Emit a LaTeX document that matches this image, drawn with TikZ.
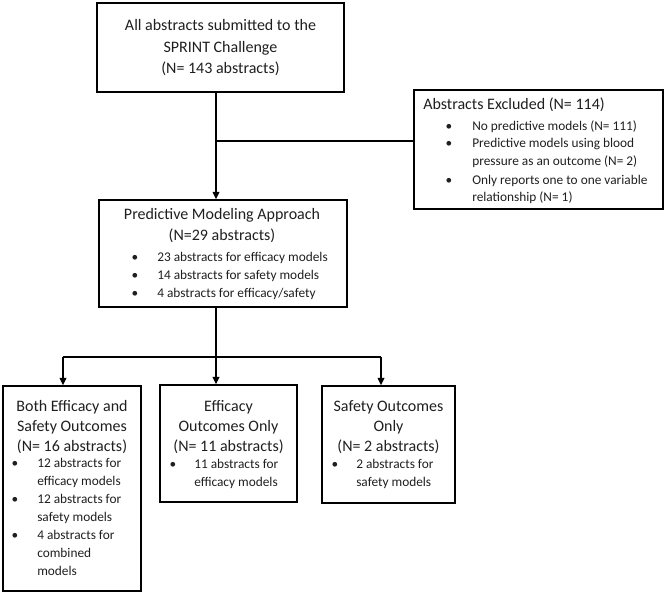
\documentclass[tikz,border=0pt]{standalone}
\usepackage{fontspec}
\setmainfont{Carlito}
\usetikzlibrary{arrows.meta}
\begin{document}
\begin{tikzpicture}[x=0.75pt,y=-0.75pt,
  box/.style={draw=black,line width=1.1pt,inner sep=0pt,rectangle},
  main/.style={font=\fontsize{12}{14}\selectfont,anchor=base,inner sep=0pt,text=black!88},
  mainl/.style={main,anchor=base west},
  sub/.style={font=\fontsize{10}{12}\selectfont,anchor=base west,inner sep=0pt,text=black!88},
  bul/.style={font=\fontsize{10}{12}\selectfont,anchor=base,inner sep=0pt,text=black!88},
  conn/.style={draw=black,line width=1pt},
  arr/.style={conn,-{Triangle[length=5.5pt,width=5pt]}}]
\useasboundingbox (0,0) rectangle (666,595);
% boxes
\node[box,minimum width={247*0.75pt},minimum height={89*0.75pt}] (top) at (220.5,47.5) {};
\node[box,minimum width={249*0.75pt},minimum height={119*0.75pt}] (excl) at (538.5,149.5) {};
\node[box,minimum width={248*0.75pt},minimum height={107*0.75pt}] (pred) at (223,253.5) {};
\node[box,minimum width={138*0.75pt},minimum height={205*0.75pt}] (both) at (72,488.5) {};
\node[box,minimum width={137*0.75pt},minimum height={117*0.75pt}] (eff) at (228.5,443.5) {};
\node[box,minimum width={133*0.75pt},minimum height={117*0.75pt}] (saf) at (388.5,444.5) {};
% top text
\node[main] (t1) at (220.5,30.5) {All abstracts submitted to the};
\node[main] (t2) at (220.5,52.5) {SPRINT Challenge};
\node[main] (t3) at (220.5,73.5) {(N= 143 abstracts)};
% excluded text
\node[mainl] (e0) at (423,109.5) {Abstracts Excluded (N= 114)};
\node[bul] (eb1) at (449,130.5) {\textbullet};
\node[sub] (e1) at (472,130.5) {No predictive models (N= 111)};
\node[bul] (eb2) at (449,147.5) {\textbullet};
\node[sub] (e2) at (472,147.5) {Predictive models using blood};
\node[sub] (e3) at (472,165.5) {pressure as an outcome (N= 2)};
\node[bul] (eb3) at (449,184.5) {\textbullet};
\node[sub] (e4) at (472,184.5) {Only reports one to one variable};
\node[sub] (e5) at (472,201.5) {relationship (N= 1)};
% predictive text
\node[main] (p1) at (222,219.5) {Predictive Modeling Approach};
\node[main] (p2) at (222,240) {(N=29 abstracts)};
\node[bul] (pb1) at (135,261.5) {\textbullet};
\node[sub] (p3) at (157,261.5) {23 abstracts for efficacy models};
\node[bul] (pb2) at (135,279.5) {\textbullet};
\node[sub] (p4) at (157,279.5) {14 abstracts for safety models};
\node[bul] (pb3) at (135,297.5) {\textbullet};
\node[sub] (p5) at (157,297.5) {4 abstracts for efficacy/safety};
% both box text
\node[main] (b1) at (72,411.5) {Both Efficacy and};
\node[main] (b2) at (72,431.5) {Safety Outcomes};
\node[main] (b3) at (72,451.5) {(N= 16 abstracts)};
\node[bul] (bb1) at (15,467.5) {\textbullet};
\node[sub] (b4) at (37,467.5) {12 abstracts for};
\node[sub] (b5) at (37,485.5) {efficacy models};
\node[bul] (bb2) at (15,503.5) {\textbullet};
\node[sub] (b6) at (37,503.5) {12 abstracts for};
\node[sub] (b7) at (37,521.5) {safety models};
\node[bul] (bb3) at (15,539.5) {\textbullet};
\node[sub] (b8) at (37,539.5) {4 abstracts for};
\node[sub] (b9) at (37,557.5) {combined};
\node[sub] (b10) at (37,575.5) {models};
% efficacy box text
\node[main] (f1) at (228.5,411.5) {Efficacy};
\node[main] (f2) at (228.5,431.5) {Outcomes Only};
\node[main] (f3) at (228.5,451.5) {(N= 11 abstracts)};
\node[bul] (fb1) at (173,468.5) {\textbullet};
\node[sub] (f4) at (194,468.5) {11 abstracts for};
\node[sub] (f5) at (194,486.5) {efficacy models};
% safety box text
\node[main] (s1t) at (388.5,411.5) {Safety Outcomes};
\node[main] (s2t) at (388.5,431.5) {Only};
\node[main] (s3t) at (388.5,451.5) {(N= 2 abstracts)};
\node[bul] (sb1) at (335,468.5) {\textbullet};
\node[sub] (s4t) at (356,468.5) {2 abstracts for};
\node[sub] (s5t) at (356,486.5) {safety models};
% connectors
\coordinate (sp) at (216,141);
\draw[arr] (top.south -| sp) -- (pred.north -| sp);
\draw[conn] (sp) -- (excl.west |- sp);
\coordinate (j) at (216,357);
\coordinate (jl) at (63,357);
\coordinate (jr) at (381,357);
\draw[conn] (pred.south -| j) -- (j);
\draw[conn] (jl) -- (jr);
\draw[arr] (jl) -- (both.north -| jl);
\draw[arr] (j) -- (eff.north -| j);
\draw[arr] (jr) -- (saf.north -| jr);
\end{tikzpicture}
\end{document}
